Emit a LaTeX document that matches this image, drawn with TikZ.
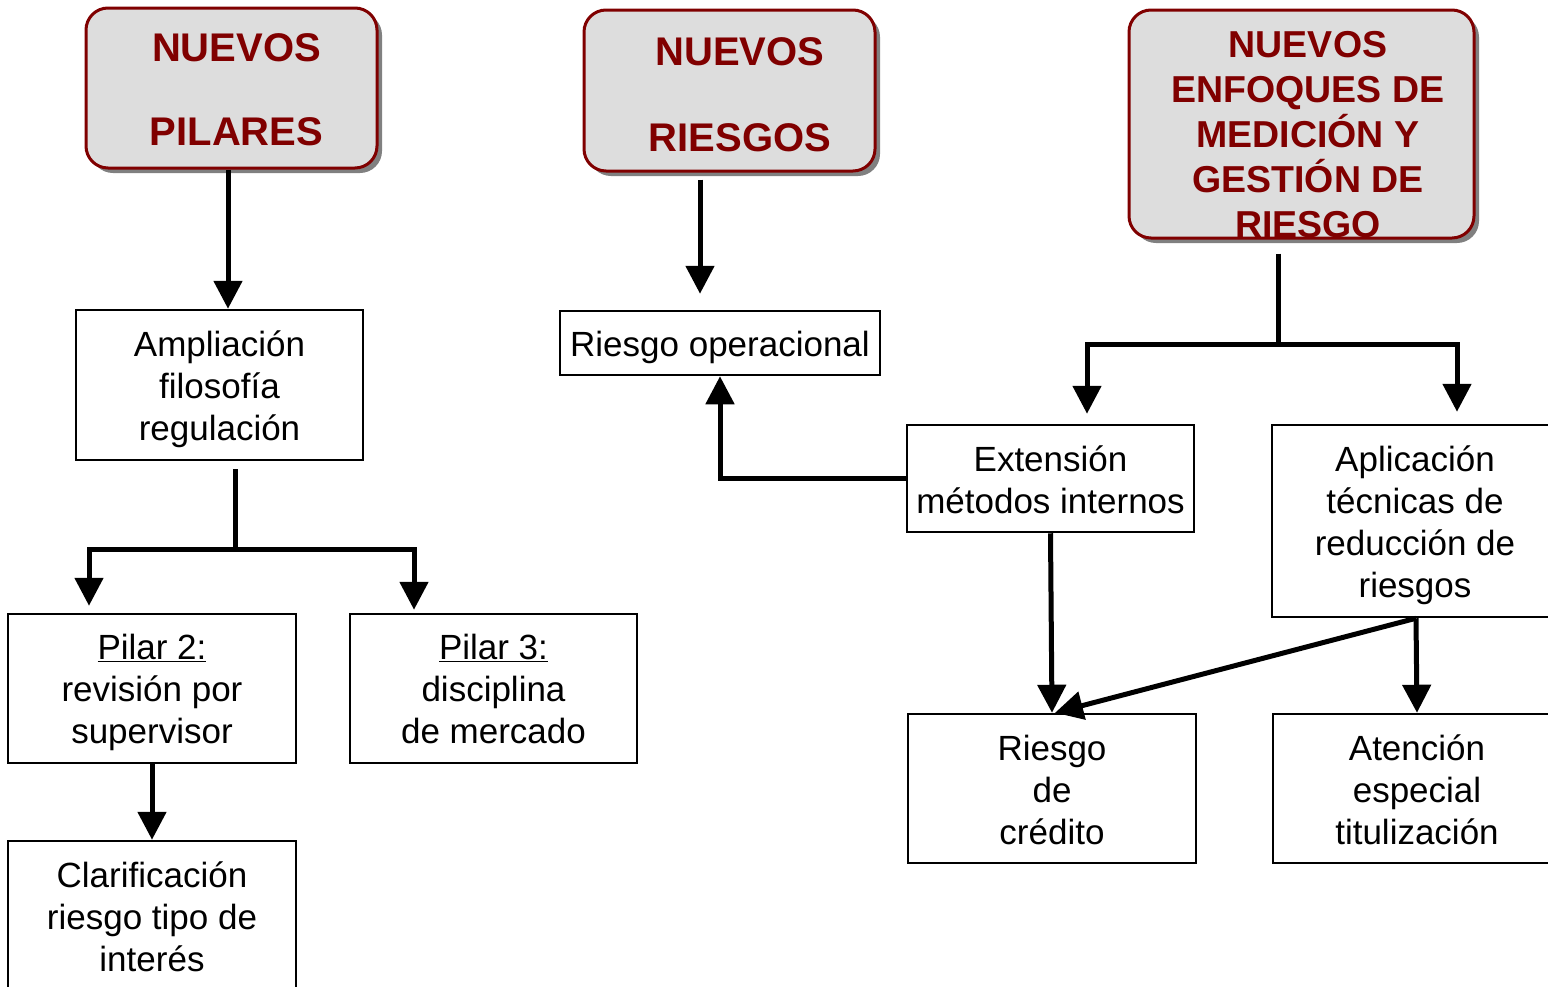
\documentclass[tikz,border=0pt]{standalone}
\usepackage{fontspec}
\setmainfont{Liberation Sans}
\usetikzlibrary{arrows.meta,shadows}
\definecolor{tred}{RGB}{128,0,0}
\definecolor{tgray}{RGB}{221,221,221}
\begin{document}
\begin{tikzpicture}[x=1pt,y=-1pt,
  titlebox/.style={draw=tred, line width=3pt, fill=tgray, rounded corners=22pt,
    inner sep=0pt, drop shadow={shadow xshift=5pt, shadow yshift=-5pt, fill=black!50, opacity=1}},
  titletext/.style={text=tred, font=\bfseries\fontsize{40pt}{48pt}\selectfont, inner sep=0pt, anchor=base},
  bigtitle/.style={text=tred, font=\bfseries\fontsize{37.5pt}{45pt}\selectfont, inner sep=0pt, anchor=base, align=center},
  box/.style={draw=black, line width=2.5pt, fill=white, inner sep=0pt},
  btext/.style={inner sep=0pt, align=center, font=\fontsize{35pt}{42pt}\selectfont},
  conn/.style={draw=black, line width=5pt},
  arr/.style={conn, -{Triangle[width=28pt,length=28pt]}}
]
\useasboundingbox (0,0) rectangle (1548,986);
\clip (0,0) rectangle (1548,986);
\fill[white] (0,0) rectangle (1548,986);

% title boxes
\node[titlebox, minimum width=291pt, minimum height=160pt] (t1) at (231.5,88) {};
\node[titletext] (t1a) at (236.5,61) {NUEVOS};
\node[titletext] (t1b) at (236.5,145) {PILARES};

\node[titlebox, minimum width=291pt, minimum height=161pt] (t2) at (729.5,90.5) {};
\node[titletext] (t2a) at (740,65) {NUEVOS};
\node[titletext] (t2b) at (740,151) {RIESGOS};

\node[titlebox, minimum width=345pt, minimum height=228pt] (t3) at (1301.5,124) {};
\begin{scope}
  \clip[rounded corners=22pt] ([xshift=1.5pt,yshift=1.5pt]t3.south west) rectangle ([xshift=-1.5pt,yshift=-1.5pt]t3.north east);
  \node[bigtitle] (t3a) at (1308,237) {NUEVOS\\ENFOQUES DE\\MEDICIÓN Y\\GESTIÓN DE\\RIESGO};
\end{scope}

% body boxes
\node[box, minimum width=287pt, minimum height=150pt,
  label={[btext,yshift=-4pt]center:{Ampliación\\filosofía\\regulación}}] (amp) at (219.5,385) {};
\node[box, minimum width=288pt, minimum height=149pt,
  label={[btext,yshift=-4pt]center:{\underline{Pilar 2:}\\revisión por\\supervisor}}] (p2) at (152,688.5) {};
\node[box, minimum width=287pt, minimum height=149pt,
  label={[btext,yshift=0pt]center:{\underline{Pilar 3:}\\disciplina\\de mercado}}] (p3) at (493.5,688.5) {};
\node[box, minimum width=288pt, minimum height=150pt,
  label={[btext,yshift=-1pt]center:{Clarificación\\riesgo tipo de\\interés}}] (clar) at (152,916) {};
\node[box, minimum width=320pt, minimum height=64pt,
  label={[btext,yshift=-4pt]center:{Riesgo operacional}}] (rop) at (720,343) {};
\node[box, minimum width=287pt, minimum height=107pt,
  label={[btext,yshift=-1pt]center:{Extensión\\métodos internos}}] (ext) at (1050.5,478.5) {};
\node[box, minimum width=288pt, minimum height=192pt,
  label={[btext,yshift=-4pt,xshift=-1pt]center:{Aplicación\\técnicas de\\reducción de\\riesgos}}] (apl) at (1416,521) {};
\node[box, minimum width=288pt, minimum height=149pt,
  label={[btext,yshift=-1pt]center:{Riesgo\\de\\crédito}}] (rdc) at (1052,788.5) {};
\node[box, minimum width=288pt, minimum height=149pt,
  label={[btext,yshift=-1pt]center:{Atención\\especial\\titulización}}] (ate) at (1417,788.5) {};

% connectors
\draw[arr] ([xshift=-3.5pt]t1.south) -- ([xshift=8.5pt]amp.north);
\draw[arr] ([xshift=-29.5pt,yshift=-7pt]t2.south) -- ([xshift=-20pt,yshift=16pt]rop.north);

\draw[conn] ([xshift=15.5pt,yshift=-8pt]amp.south) -- ++(0,80) coordinate (j1);
\draw[arr] (j1) -| ([xshift=-63pt,yshift=7pt]p2.north);
\draw[arr] (j1) -| ([xshift=-79.5pt,yshift=3pt]p3.north);
\draw[arr] (p2.south) -- (clar.north);

\draw[conn] ([xshift=-23.5pt,yshift=-14pt]t3.south) -- ++(0,91) coordinate (j3);
\draw[arr] (j3) -| ([xshift=36.5pt,yshift=10pt]ext.north);
\draw[arr] (j3) -| ([xshift=41pt,yshift=12pt]apl.north);

\draw[arr] (ext.west) -| (rop.south);
\draw[arr] (ext.south) -- (rdc.north);
\draw[arr] (apl.south) -- ([xshift=3pt]rdc.north);
\draw[arr] (apl.south) -- (ate.north);
\end{tikzpicture}
\end{document}
